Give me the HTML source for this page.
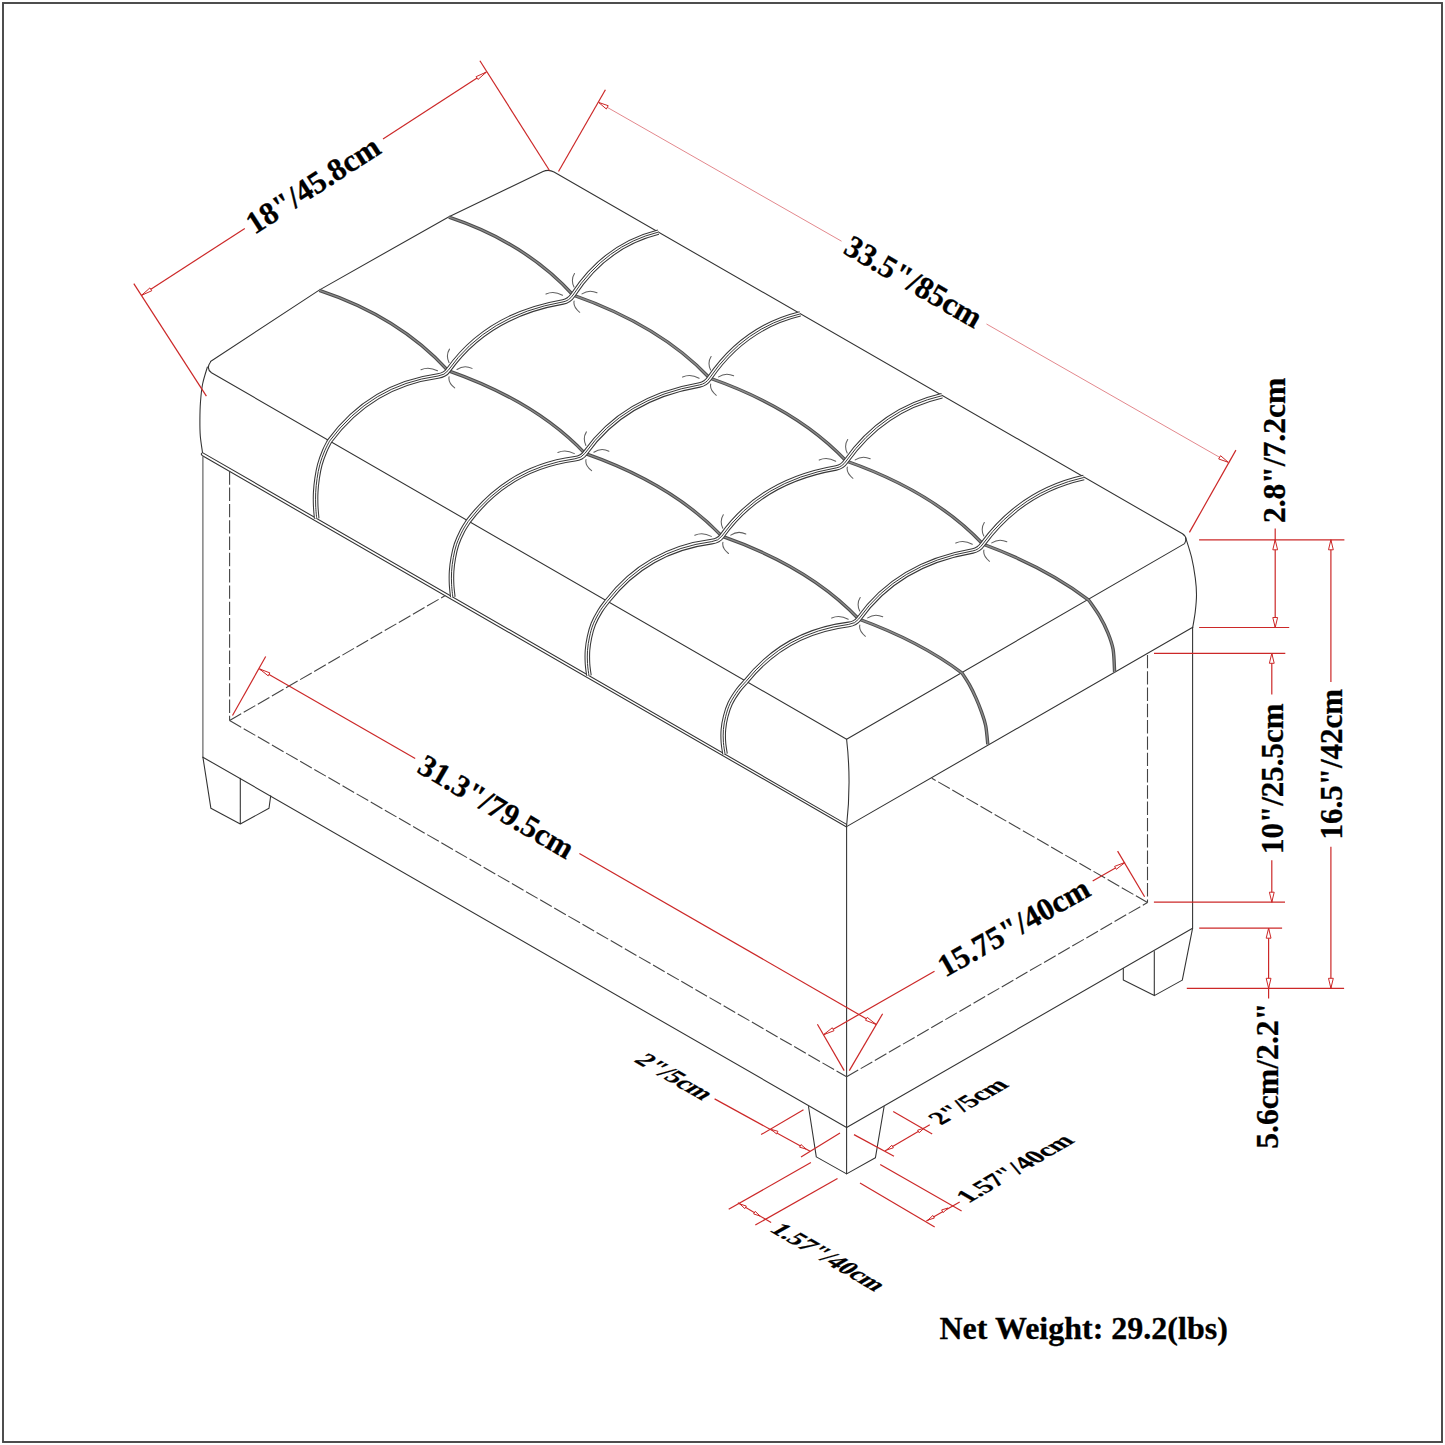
<!DOCTYPE html><html><head><meta charset="utf-8"><style>
html,body{margin:0;padding:0;background:#fff;}
svg{display:block;}
.k{stroke:#333;stroke-width:1.08;fill:none;stroke-linecap:round;stroke-linejoin:round;}
.kg{stroke:#555;stroke-width:1.1;fill:none;}
.d{stroke:#444;stroke-width:1.1;fill:none;stroke-dasharray:13.4 2.9;}
.r{stroke:#cc2828;stroke-width:1.2;fill:none;}
.rp{stroke:#e07a80;stroke-width:0.9;fill:none;}
.ah{stroke:#cc2828;stroke-width:1;fill:#fff;stroke-linejoin:round;}
.s1{stroke:#4c4c4c;stroke-width:3.4;fill:none;}
.s1b{stroke:#8a8a8a;stroke-width:1.4;fill:none;}
.s3a{stroke:#383838;stroke-width:5.6;fill:none;}
.s3b{stroke:#fff;stroke-width:3.5;fill:none;}
.s3c{stroke:#383838;stroke-width:1;fill:none;}
.pn{stroke:#606060;stroke-width:1.05;fill:none;stroke-linecap:round;}
text{font-family:"Liberation Serif",serif;font-weight:bold;fill:#000;stroke:#000;stroke-width:0.3;}
</style></head><body>
<svg width="1445" height="1445" viewBox="0 0 1445 1445">
<rect x="0" y="0" width="1445" height="1445" fill="#fff"/>
<rect x="3" y="3" width="1439" height="1439" fill="none" stroke="#454545" stroke-width="1.9"/>
<path class="k" d="M210.5,361.5 L319.2,290.1 L449,216.7 L543,171.6 Q548.5,169 554,172 L1182.5,533.8 Q1188,537.5 1184.6,543.6 L846.6,739.3 L211.5,372.8 Q205.8,368.5 210.5,362 Z"/>
<path class="k" d="M207.4,367 C206.6,369.83 203.75,378.2 202.6,384 C201.45,389.8 200.95,395.8 200.5,401.8 C200.05,407.8 199.93,414.3 199.9,420 C199.87,425.7 199.87,430.6 200.3,436 C200.73,441.4 202.13,449.67 202.5,452.4"/>
<path class="k" d="M1185.6,537.5 C1186.6,540.82 1189.98,550.63 1191.6,557.4 C1193.22,564.17 1194.48,571.87 1195.3,578.1 C1196.12,584.33 1196.5,589.25 1196.5,594.8 C1196.5,600.35 1195.92,606.02 1195.3,611.4 C1194.68,616.78 1193.22,624.48 1192.8,627.1"/>
<path class="k" d="M846.6,739.3 Q851.5,782 846.6,826"/>
<path class="k" d="M846.6,824.4 L202.5,452.6 Q200,454 202.5,455.8 L846.6,827"/>
<path class="k" d="M846.6,826.6 L1192.8,627.2"/>
<path class="kg" d="M202.9,456.5 L202.9,757.2"/>
<path class="k" d="M202.9,757.2 L846.6,1127.5 L1192.6,928.2 L1192.6,627.4"/>
<path class="k" d="M846.6,827 L846.6,1127.5"/>
<path class="k" d="M202.9,757.2 L210.9,808.3 L240.3,824 L269,808.3 L270.7,795.8 M240.3,778.4 L240.3,824"/>
<path class="k" d="M808.5,1106.5 L816.3,1156.9 L846.6,1173.9 L875.4,1157.8 L884.1,1106.5 M846.6,1127.5 L846.6,1173.9"/>
<path class="k" d="M1192.6,928.2 L1182.3,980.1 L1154.3,995.6 L1123.3,980.1 L1123.3,968.5 M1154.3,951.5 L1154.3,995.6"/>
<path class="d" d="M229.6,471.3 L229.6,720.5"/>
<path class="d" d="M229.6,720.5 L846.6,1076.8"/>
<path class="d" d="M846.6,1076.8 L1147.5,902.5"/>
<path class="d" d="M1147.5,654.9 L1147.5,902.5"/>
<path class="d" d="M229.6,720.5 L445.3,595.5"/>
<path class="d" d="M1147.5,902.5 L931.8,778.2"/>
<path class="s1" d="M448.9,217.2 Q525.84,242.87 573,295 Q660.42,325.71 709.6,378 Q797.02,408.71 846.2,461 Q933.62,491.71 982.8,544 Q1046.34,567.56 1088.7,600.1 C1090.52,602.78 1096.4,610.75 1099.6,616.2 C1102.8,621.65 1105.65,627.27 1107.9,632.8 C1110.15,638.33 1111.98,642.83 1113.1,649.4 C1114.22,655.97 1114.35,668.4 1114.6,672.2"/>
<path class="s1b" d="M448.9,217.2 Q525.84,242.87 573,295 Q660.42,325.71 709.6,378 Q797.02,408.71 846.2,461 Q933.62,491.71 982.8,544 Q1046.34,567.56 1088.7,600.1 C1090.52,602.78 1096.4,610.75 1099.6,616.2 C1102.8,621.65 1105.65,627.27 1107.9,632.8 C1110.15,638.33 1111.98,642.83 1113.1,649.4 C1114.22,655.97 1114.35,668.4 1114.6,672.2"/>
<path class="s1" d="M319.3,290.4 Q399.09,316.87 448,370.6 Q535.62,401.24 584.9,453.4 Q672.52,484.04 721.8,536.2 Q809.42,566.84 858.7,619 Q920.74,641.72 962.1,673.1 C963.27,674.95 966.78,680.03 969.1,684.2 C971.42,688.37 973.93,693.48 976,698.1 C978.07,702.72 979.88,707.3 981.5,711.9 C983.12,716.5 984.65,720.28 985.7,725.7 C986.75,731.12 987.45,741.28 987.8,744.4"/>
<path class="s1b" d="M319.3,290.4 Q399.09,316.87 448,370.6 Q535.62,401.24 584.9,453.4 Q672.52,484.04 721.8,536.2 Q809.42,566.84 858.7,619 Q920.74,641.72 962.1,673.1 C963.27,674.95 966.78,680.03 969.1,684.2 C971.42,688.37 973.93,693.48 976,698.1 C978.07,702.72 979.88,707.3 981.5,711.9 C983.12,716.5 984.65,720.28 985.7,725.7 C986.75,731.12 987.45,741.28 987.8,744.4"/>
<path class="s3a" d="M658.4,232.1 Q605.45,245.31 573,295 Q569.05,300.86 563,301.9 Q487.1,314.95 448,370.6 Q444.9,375.06 438,376 Q370.73,385.13 329.5,441.2 C328.7,442.81 326.32,446.97 324.7,450.87 C323.08,454.78 321.07,460.04 319.8,464.63 C318.53,469.22 317.78,473.79 317.1,478.39 C316.42,482.99 315.93,487.65 315.7,492.25 C315.47,496.85 315.53,501.64 315.7,506.01 C315.87,510.38 316.53,516.39 316.7,518.47"/>
<path class="s3b" d="M658.4,232.1 Q605.45,245.31 573,295 Q569.05,300.86 563,301.9 Q487.1,314.95 448,370.6 Q444.9,375.06 438,376 Q370.73,385.13 329.5,441.2 C328.7,442.81 326.32,446.97 324.7,450.87 C323.08,454.78 321.07,460.04 319.8,464.63 C318.53,469.22 317.78,473.79 317.1,478.39 C316.42,482.99 315.93,487.65 315.7,492.25 C315.47,496.85 315.53,501.64 315.7,506.01 C315.87,510.38 316.53,516.39 316.7,518.47"/>
<path class="s3c" d="M658.4,232.1 Q605.45,245.31 573,295 Q569.05,300.86 563,301.9 Q487.1,314.95 448,370.6 Q444.9,375.06 438,376 Q370.73,385.13 329.5,441.2 C328.7,442.81 326.32,446.97 324.7,450.87 C323.08,454.78 321.07,460.04 319.8,464.63 C318.53,469.22 317.78,473.79 317.1,478.39 C316.42,482.99 315.93,487.65 315.7,492.25 C315.47,496.85 315.53,501.64 315.7,506.01 C315.87,510.38 316.53,516.39 316.7,518.47"/>
<path class="s3a" d="M800.2,313.9 Q744.03,327.36 709.6,378 Q705.65,383.86 699.6,384.9 Q623.9,397.91 584.9,453.4 Q581.78,457.89 574.9,458.8 Q508.81,467.55 468.3,521.3 C467.33,522.88 464.45,526.95 462.49,530.77 C460.54,534.6 458.1,539.75 456.56,544.25 C455.03,548.74 454.12,553.21 453.3,557.72 C452.47,562.23 451.88,566.79 451.6,571.29 C451.32,575.8 451.4,580.49 451.6,584.77 C451.8,589.05 452.61,594.94 452.81,596.97"/>
<path class="s3b" d="M800.2,313.9 Q744.03,327.36 709.6,378 Q705.65,383.86 699.6,384.9 Q623.9,397.91 584.9,453.4 Q581.78,457.89 574.9,458.8 Q508.81,467.55 468.3,521.3 C467.33,522.88 464.45,526.95 462.49,530.77 C460.54,534.6 458.1,539.75 456.56,544.25 C455.03,548.74 454.12,553.21 453.3,557.72 C452.47,562.23 451.88,566.79 451.6,571.29 C451.32,575.8 451.4,580.49 451.6,584.77 C451.8,589.05 452.61,594.94 452.81,596.97"/>
<path class="s3c" d="M800.2,313.9 Q744.03,327.36 709.6,378 Q705.65,383.86 699.6,384.9 Q623.9,397.91 584.9,453.4 Q581.78,457.89 574.9,458.8 Q508.81,467.55 468.3,521.3 C467.33,522.88 464.45,526.95 462.49,530.77 C460.54,534.6 458.1,539.75 456.56,544.25 C455.03,548.74 454.12,553.21 453.3,557.72 C452.47,562.23 451.88,566.79 451.6,571.29 C451.32,575.8 451.4,580.49 451.6,584.77 C451.8,589.05 452.61,594.94 452.81,596.97"/>
<path class="s3a" d="M942,395.7 Q882.6,409.41 846.2,461 Q842.25,466.86 836.2,467.9 Q760.7,480.88 721.8,536.2 Q718.66,540.72 711.8,541.6 Q646.89,549.97 607.1,601.4 C605.96,602.95 602.58,606.93 600.28,610.67 C597.99,614.41 595.12,619.46 593.33,623.86 C591.53,628.26 590.46,632.64 589.49,637.05 C588.52,641.46 587.84,645.92 587.5,650.34 C587.17,654.75 587.27,659.34 587.5,663.53 C587.74,667.72 588.69,673.48 588.92,675.48"/>
<path class="s3b" d="M942,395.7 Q882.6,409.41 846.2,461 Q842.25,466.86 836.2,467.9 Q760.7,480.88 721.8,536.2 Q718.66,540.72 711.8,541.6 Q646.89,549.97 607.1,601.4 C605.96,602.95 602.58,606.93 600.28,610.67 C597.99,614.41 595.12,619.46 593.33,623.86 C591.53,628.26 590.46,632.64 589.49,637.05 C588.52,641.46 587.84,645.92 587.5,650.34 C587.17,654.75 587.27,659.34 587.5,663.53 C587.74,667.72 588.69,673.48 588.92,675.48"/>
<path class="s3c" d="M942,395.7 Q882.6,409.41 846.2,461 Q842.25,466.86 836.2,467.9 Q760.7,480.88 721.8,536.2 Q718.66,540.72 711.8,541.6 Q646.89,549.97 607.1,601.4 C605.96,602.95 602.58,606.93 600.28,610.67 C597.99,614.41 595.12,619.46 593.33,623.86 C591.53,628.26 590.46,632.64 589.49,637.05 C588.52,641.46 587.84,645.92 587.5,650.34 C587.17,654.75 587.27,659.34 587.5,663.53 C587.74,667.72 588.69,673.48 588.92,675.48"/>
<path class="s3a" d="M1083.8,477.5 Q1021.18,491.46 982.8,544 Q978.85,549.86 972.8,550.9 Q897.49,563.84 858.7,619 Q855.54,623.54 848.7,624.4 Q784.96,632.39 745.9,681.5 C744.6,683.01 740.71,686.91 738.08,690.57 C735.44,694.23 732.15,699.18 730.09,703.48 C728.02,707.78 726.8,712.07 725.69,716.38 C724.57,720.7 723.79,725.06 723.41,729.38 C723.03,733.7 723.13,738.19 723.41,742.29 C723.68,746.39 724.76,752.03 725.04,753.98"/>
<path class="s3b" d="M1083.8,477.5 Q1021.18,491.46 982.8,544 Q978.85,549.86 972.8,550.9 Q897.49,563.84 858.7,619 Q855.54,623.54 848.7,624.4 Q784.96,632.39 745.9,681.5 C744.6,683.01 740.71,686.91 738.08,690.57 C735.44,694.23 732.15,699.18 730.09,703.48 C728.02,707.78 726.8,712.07 725.69,716.38 C724.57,720.7 723.79,725.06 723.41,729.38 C723.03,733.7 723.13,738.19 723.41,742.29 C723.68,746.39 724.76,752.03 725.04,753.98"/>
<path class="s3c" d="M1083.8,477.5 Q1021.18,491.46 982.8,544 Q978.85,549.86 972.8,550.9 Q897.49,563.84 858.7,619 Q855.54,623.54 848.7,624.4 Q784.96,632.39 745.9,681.5 C744.6,683.01 740.71,686.91 738.08,690.57 C735.44,694.23 732.15,699.18 730.09,703.48 C728.02,707.78 726.8,712.07 725.69,716.38 C724.57,720.7 723.79,725.06 723.41,729.38 C723.03,733.7 723.13,738.19 723.41,742.29 C723.68,746.39 724.76,752.03 725.04,753.98"/>
<path class="pn" d="M574.5,273.5 Q570.55,279.75 574,287 M546,294.1 Q553.75,290.55 562.5,295.2 M582,293.9 Q589.1,289.05 597,292.8 M574.1,301.1 Q572.9,306.9 579.7,312.3 M449.5,349.1 Q445.55,355.35 449,362.6 M421,369.7 Q428.75,366.15 437.5,370.8 M457,369.5 Q464.1,364.65 472,368.4 M449.1,376.7 Q447.9,382.5 454.7,387.9 M711.1,356.5 Q707.15,362.75 710.6,370 M682.6,377.1 Q690.35,373.55 699.1,378.2 M718.6,376.9 Q725.7,372.05 733.6,375.8 M710.7,384.1 Q709.5,389.9 716.3,395.3 M586.4,431.9 Q582.45,438.15 585.9,445.4 M557.9,452.5 Q565.65,448.95 574.4,453.6 M593.9,452.3 Q601,447.45 608.9,451.2 M586,459.5 Q584.8,465.3 591.6,470.7 M847.7,439.5 Q843.75,445.75 847.2,453 M819.2,460.1 Q826.95,456.55 835.7,461.2 M855.2,459.9 Q862.3,455.05 870.2,458.8 M847.3,467.1 Q846.1,472.9 852.9,478.3 M723.3,514.7 Q719.35,520.95 722.8,528.2 M694.8,535.3 Q702.55,531.75 711.3,536.4 M730.8,535.1 Q737.9,530.25 745.8,534 M722.9,542.3 Q721.7,548.1 728.5,553.5 M984.3,522.5 Q980.35,528.75 983.8,536 M955.8,543.1 Q963.55,539.55 972.3,544.2 M991.8,542.9 Q998.9,538.05 1006.8,541.8 M983.9,550.1 Q982.7,555.9 989.5,561.3 M860.2,597.5 Q856.25,603.75 859.7,611 M831.7,618.1 Q839.45,614.55 848.2,619.2 M867.7,617.9 Q874.8,613.05 882.7,616.8 M859.8,625.1 Q858.6,630.9 865.4,636.3 "/>
<line class="r" x1="133.8" y1="283.6" x2="206.4" y2="396.2"/>
<line class="r" x1="479.9" y1="60.8" x2="549.5" y2="170.5"/>
<line class="r" x1="141.6" y1="295.3" x2="244.8" y2="228.4"/>
<line class="r" x1="383" y1="139" x2="486.3" y2="72.1"/>
<path class="ah" d="M141.6,295.3 L149.91,287.89 L151.75,290.74 Z"/>
<path class="ah" d="M486.3,72.1 L477.99,79.51 L476.14,76.65 Z"/>
<line class="r" x1="558.5" y1="171.5" x2="605.4" y2="89.8"/>
<line class="r" x1="1235.9" y1="450.1" x2="1189.4" y2="532.4"/>
<line class="rp" x1="598.6" y1="102.4" x2="841.5" y2="241.2"/>
<line class="rp" x1="986.5" y1="324" x2="1228.3" y2="462.3"/>
<path class="ah" d="M598.6,102.4 L608.23,105.71 L606.34,109.01 Z"/>
<path class="ah" d="M1228.3,462.3 L1218.68,458.98 L1220.56,455.69 Z"/>
<line class="r" x1="232.5" y1="715.5" x2="265.7" y2="656.5"/>
<line class="r" x1="849.3" y1="1070.6" x2="882.6" y2="1013.8"/>
<line class="r" x1="259.5" y1="668.9" x2="415.2" y2="758.6"/>
<line class="r" x1="579.4" y1="853.4" x2="875.9" y2="1024.3"/>
<path class="ah" d="M259.5,668.9 L269.88,672.92 L268.18,675.86 Z"/>
<path class="ah" d="M875.9,1024.3 L865.52,1020.28 L867.22,1017.33 Z"/>
<line class="r" x1="844.2" y1="1070.6" x2="817.4" y2="1024.3"/>
<line class="r" x1="1144.6" y1="896.8" x2="1117.6" y2="851.1"/>
<line class="r" x1="823.6" y1="1034.7" x2="934.5" y2="971.3"/>
<line class="r" x1="1092.7" y1="880.9" x2="1125" y2="862.4"/>
<path class="ah" d="M823.6,1034.7 L832.31,1027.76 L833.99,1030.72 Z"/>
<path class="ah" d="M1125,862.4 L1116.3,869.34 L1114.61,866.39 Z"/>
<line class="r" x1="1199.1" y1="539.8" x2="1344.4" y2="539.8"/>
<line class="r" x1="1199.1" y1="627.5" x2="1289.2" y2="627.5"/>
<line class="r" x1="1154" y1="653.3" x2="1285.3" y2="653.3"/>
<line class="r" x1="1153.9" y1="902.2" x2="1285" y2="902.2"/>
<line class="r" x1="1199.2" y1="928.2" x2="1282.1" y2="928.2"/>
<line class="r" x1="1186.8" y1="988.3" x2="1344.1" y2="988.3"/>
<line class="r" x1="1275.2" y1="528.6" x2="1275.2" y2="627.5"/>
<path class="ah" d="M1275.2,539.8 L1277.6,549.8 L1272.8,549.8 Z"/>
<path class="ah" d="M1275.2,627.5 L1272.8,617.5 L1277.6,617.5 Z"/>
<line class="r" x1="1271.8" y1="653.3" x2="1271.8" y2="694.6"/>
<line class="r" x1="1271.8" y1="860.3" x2="1271.8" y2="902.2"/>
<path class="ah" d="M1271.8,653.3 L1274.2,663.3 L1269.4,663.3 Z"/>
<path class="ah" d="M1271.8,902.2 L1269.4,892.2 L1274.2,892.2 Z"/>
<line class="r" x1="1330.9" y1="539.8" x2="1330.9" y2="682"/>
<line class="r" x1="1330.9" y1="846.7" x2="1330.9" y2="988.3"/>
<path class="ah" d="M1330.9,539.8 L1333.3,549.8 L1328.5,549.8 Z"/>
<path class="ah" d="M1330.9,988.3 L1328.5,978.3 L1333.3,978.3 Z"/>
<line class="r" x1="1268.6" y1="928.2" x2="1268.6" y2="998.5"/>
<path class="ah" d="M1268.6,928.2 L1271,938.2 L1266.2,938.2 Z"/>
<path class="ah" d="M1268.6,988.3 L1266.2,978.3 L1271,978.3 Z"/>
<line class="r" x1="714.6" y1="1098.9" x2="810.1" y2="1151.2"/>
<line class="r" x1="761.1" y1="1134.6" x2="803.5" y2="1109.7"/>
<line class="r" x1="801" y1="1157" x2="840" y2="1132.9"/>
<path class="ah" d="M771.5,1129.5 L777.92,1131.31 L776.48,1133.94 Z"/>
<path class="ah" d="M806,1149 L799.58,1147.19 L801.02,1144.56 Z"/>
<line class="r" x1="893.2" y1="1111.5" x2="932.2" y2="1133.9"/>
<line class="r" x1="854" y1="1134.6" x2="894" y2="1156.3"/>
<line class="r" x1="884.9" y1="1151" x2="929.8" y2="1124.8"/>
<path class="ah" d="M887,1149.8 L891.86,1145.23 L893.37,1147.82 Z"/>
<path class="ah" d="M924,1128.2 L919.14,1132.77 L917.63,1130.18 Z"/>
<line class="r" x1="728.7" y1="1209.3" x2="810.9" y2="1162.5"/>
<line class="r" x1="755.3" y1="1225.1" x2="837.5" y2="1178.6"/>
<line class="r" x1="737.9" y1="1202.7" x2="771.1" y2="1222.6"/>
<path class="ah" d="M740,1204 L746.35,1206.06 L744.8,1208.63 Z"/>
<path class="ah" d="M760,1216 L753.65,1213.94 L755.2,1211.37 Z"/>
<line class="r" x1="880.2" y1="1164.6" x2="961.6" y2="1211.1"/>
<line class="r" x1="860" y1="1182.9" x2="934.7" y2="1226.9"/>
<line class="r" x1="926.4" y1="1221.1" x2="959.7" y2="1202"/>
<path class="ah" d="M928,1220 L932.89,1215.46 L934.38,1218.07 Z"/>
<path class="ah" d="M948,1208 L943.11,1212.54 L941.62,1209.93 Z"/>
<text x="0" y="0" font-size="31.4" transform="translate(254.5,235) rotate(-32.8)">18&quot;/45.8cm</text>
<text x="0" y="0" font-size="31.5" transform="translate(842,252.5) rotate(30)">33.5&quot;/85cm</text>
<text x="0" y="0" font-size="31.1" transform="translate(415.8,771.5) rotate(30.4)">31.3&quot;/79.5cm</text>
<text x="0" y="0" font-size="31.5" transform="translate(945.3,977.7) rotate(-29.4)">15.75&quot;/40cm</text>
<text x="0" y="0" font-size="31.5" transform="translate(1285.3,523) rotate(-90)">2.8&quot;/7.2cm</text>
<text x="0" y="0" font-size="31" transform="translate(1282.9,854) rotate(-90)">10&quot;/25.5cm</text>
<text x="0" y="0" font-size="31" transform="translate(1341.6,839.5) rotate(-90)">16.5&quot;/42cm</text>
<text x="0" y="0" font-size="31.7" transform="translate(1278.4,1148.8) rotate(-90)">5.6cm/2.2&quot;</text>
<text x="0" y="0" font-size="25.6" transform="matrix(0.866,0.5,-0.866,0.5,633,1061)">2&quot;/5cm</text>
<text x="0" y="0" font-size="25.6" transform="matrix(0.866,-0.5,0.866,0.5,941,1125.5)">2&quot;/5cm</text>
<text x="0" y="0" font-size="25.2" transform="matrix(0.866,0.5,-0.866,0.5,768.5,1230.5)">1.57&quot;/40cm</text>
<text x="0" y="0" font-size="25.5" transform="matrix(0.866,-0.5,0.866,0.5,968.5,1203.5)">1.57&quot;/40cm</text>
<text x="939.5" y="1338.5" font-size="32">Net Weight: 29.2(lbs)</text>
</svg></body></html>
